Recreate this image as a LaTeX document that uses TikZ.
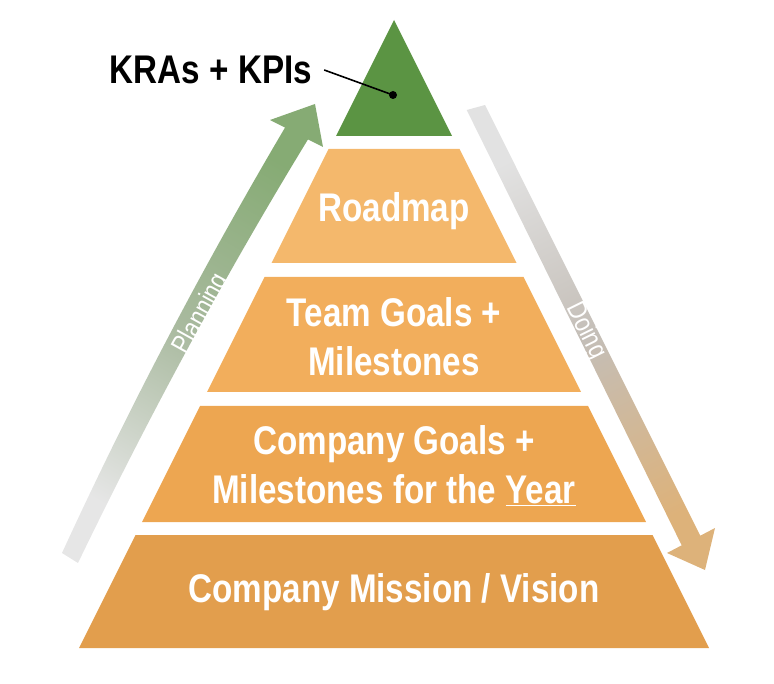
\documentclass[tikz,border=0pt]{standalone}
\usepackage{fontspec}
\setmainfont{Liberation Sans}[FakeStretch=0.83]
\usepackage{tikz}
\usetikzlibrary{positioning}

\definecolor{topgreen}{HTML}{5B9443}
\definecolor{layerA}{HTML}{F4B86C}
\definecolor{layerB}{HTML}{F2AE5C}
\definecolor{layerC}{HTML}{EDA651}
\definecolor{layerD}{HTML}{E29E4D}
\definecolor{plangreen}{HTML}{86AB74}
\definecolor{planmid}{HTML}{A9BA9F}
\definecolor{plangray}{HTML}{E6E6E6}
\definecolor{dogray}{HTML}{E2E2E2}
\definecolor{domid}{HTML}{C4BEB7}
\definecolor{dotan}{HTML}{DDB27A}

\begin{document}
\begin{tikzpicture}[x=1pt, y=-1pt]
        % Setup the styles for the texts
        \tikzset{layer text/.style={text=white,
                                    font=\bfseries\fontsize{40}{49}\selectfont,
                                    align=center,
                                    inner sep=0pt},
                 arrow text/.style={text=white,
                                    font=\fontsize{27}{29}\selectfont,
                                    inner sep=0pt},
                 leader/.style={line width=1.6pt, draw=black}}

        \useasboundingbox (0,0) rectangle (774,684);

        % Draw the pyramid
        \fill[topgreen] (394,20) -- (452,136) -- (336,136) -- cycle;
        \foreach \top/\bot/\col in {149/263/layerA, 277/392/layerB,
                                    406/522/layerC, 535/648/layerD}
            \fill[\col] ({394-0.5*(\top-18)},\top) -- ({394+0.5*(\top-18)},\top)
                     -- ({394+0.5*(\bot-18)},\bot) -- ({394-0.5*(\bot-18)},\bot) -- cycle;

        % Draw the arrows
        \shade[bottom color=plangray, top color=plangreen, middle color=planmid, shading angle=-30]
            (62,553) .. controls (129,407) and (204,265) .. (285,127.6)
            -- (270,120) -- (315,104) -- (323,147) -- (308,139.4)
            .. controls (224,277) and (148,418) .. (78,563) -- cycle;
        \shade[top color=dogray, bottom color=dotan, middle color=domid, shading angle=26]
            (466.7,110) -- (681.7,545.3) -- (667,553) -- (705,570)
            -- (715,528) -- (700.3,535.7) -- (485,105) -- cycle;

        % Draw the labels
        \node[layer text] at (394,211) (roadmap) {Roadmap};
        \node[layer text] at (394,337) (team) {Team Goals +\\Milestones};
        \node[layer text] at (394,466) (company) {Company Goals +\\Milestones for the \underline{Year}};
        \node[layer text] at (394,592) (mission) {Company Mission / Vision};
        \node[layer text, text=black, inner xsep=12pt] at (211,70) (kra) {KRAs + KPIs};
        \node[arrow text, rotate=61] at (201.7,314) (planning) {Planning};
        \node[arrow text, rotate=-63.7] at (586,331) (doing) {Doing};

        % Connect the label with the top
        \coordinate (dot) at (393,95);
        \fill (dot) circle (4pt);
        \draw[leader] (kra.east) -- (dot);
\end{tikzpicture}
\end{document}
